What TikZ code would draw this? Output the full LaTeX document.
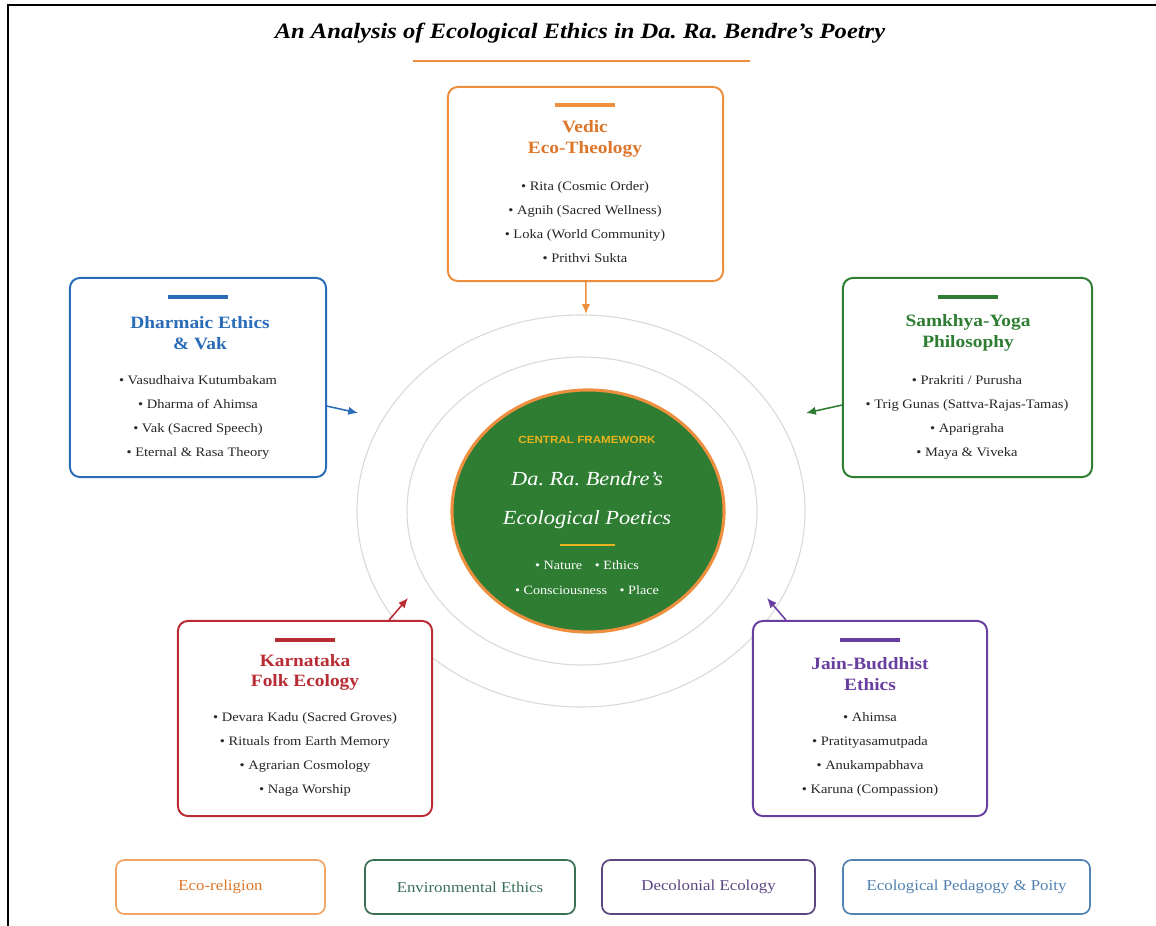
\documentclass[tikz,border=0pt]{standalone}
\usepackage{fontspec}
\setmainfont[FakeStretch=1.12]{Liberation Serif}
\newfontfamily\labelsans[FakeStretch=1.12]{Liberation Sans}
\usepackage{tikz}
\usetikzlibrary{shapes,arrows,arrows.meta,positioning,fit,backgrounds}
\definecolor{orange}{RGB}{237, 143, 62}
\definecolor{orangetext}{RGB}{222, 118, 42}
\definecolor{blue}{RGB}{43, 108, 184}
\definecolor{green}{RGB}{46, 125, 50}
\definecolor{red}{RGB}{185, 44, 52}
\definecolor{purple}{RGB}{104, 62, 160}
\definecolor{gold}{RGB}{232, 180, 30}
\definecolor{ringgray}{RGB}{218, 218, 218}
\definecolor{legorange}{RGB}{240, 165, 100}
\definecolor{legteal}{RGB}{58, 112, 86}
\definecolor{legpurple}{RGB}{92, 70, 128}
\definecolor{legblue}{RGB}{82, 130, 178}
\tikzstyle{box} = [rectangle, rounded corners=7pt, line width=1.4pt, fill=white]
\tikzstyle{legend} = [rectangle, rounded corners=6pt, line width=1.2pt, fill=white, minimum height=1.35cm, font=\fontsize{10.7}{12}\selectfont]
\tikzstyle{titlebar} = [rectangle, inner sep=0pt, minimum width=1.5cm, minimum height=0.08cm]
\tikzstyle{boxtitle} = [align=center, font=\bfseries\fontsize{12.3}{14.5}\selectfont]
\tikzstyle{items} = [align=center, text=black!85, font=\fontsize{9.2}{17.1}\selectfont]
\tikzstyle{textonly} = [draw=none, fill=none, text centered]
\tikzstyle{boxtextonly} = [draw=none, fill=none, align=center]
\tikzstyle{tedge}  = [draw, line width=1.1pt, >={Latex[length=7pt,width=6pt]}, ->]

\begin{document}
\begin{tikzpicture}[x=0.025cm, y=-0.025cm]
\useasboundingbox (0,0) rectangle (1156,926);
\draw[line width=1.2pt] (8,926) -- (8,5) -- (1156,5);

%title=========================
\node[textonly, font=\bfseries\itshape\fontsize{15.6}{18}\selectfont] (title) at (580,33) {An Analysis of Ecological Ethics in Da.\ Ra.\ Bendre’s Poetry};
\node[titlebar, fill=orange, minimum width=8.425cm, minimum height=0.06cm] (titlerule) at (581.5,61) {};

%rings and centre=========================
\draw[ringgray, line width=0.8pt] (581,511) ellipse [x radius=224, y radius=196];
\draw[ringgray, line width=0.8pt] (582,511) ellipse [x radius=175, y radius=154];
\node[ellipse, fill=green, draw=orange, line width=2.2pt, minimum width=6.8cm, minimum height=6.05cm, inner sep=0pt] (core) at (588,511) {};
\node[textonly, text=gold, font=\labelsans\bfseries\fontsize{7.4}{9}\selectfont] (corelabel) at (587,440) {CENTRAL FRAMEWORK};
\node[boxtextonly, text=white, font=\itshape\fontsize{14.2}{27.7}\selectfont] (corename) at (587,500.5) {Da.\ Ra.\ Bendre’s\\Ecological Poetics};
\node[titlebar, fill=gold, minimum width=1.375cm, minimum height=0.06cm] (corebar) at (587,545) {};
\node[boxtextonly, text=white, font=\fontsize{9}{17.8}\selectfont] (coreitems) at (587,577.5) {• Nature\quad • Ethics\\• Consciousness\quad • Place};

%boxes=========================
\node[box, draw=orange, minimum width=6.875cm, minimum height=4.85cm] (vedic) at (585.5,184) {};
\node[titlebar, fill=orange] (vedicbar) at (585,105) {};
\node[boxtitle, text=orangetext] (vedict) at (585,139) {Vedic\\Eco-Theology};
\node[items] (vedici) at (585,222) {• Rita (Cosmic Order)\\• Agnih (Sacred Wellness)\\• Loka (World Community)\\• Prithvi Sukta};

\node[box, draw=blue, minimum width=6.4cm, minimum height=4.975cm] (dharma) at (198,377.5) {};
\node[titlebar, fill=blue] (dharmabar) at (198,297) {};
\node[boxtitle, text=blue] (dharmat) at (200,333) {Dharmaic Ethics\\\& Vak};
\node[items] (dharmai) at (198,417) {• Vasudhaiva Kutumbakam\\• Dharma of Ahimsa\\• Vak (Sacred Speech)\\• Eternal \& Rasa Theory};

\node[box, draw=green, minimum width=6.225cm, minimum height=4.975cm] (samkhya) at (967.5,377.5) {};
\node[titlebar, fill=green] (samkhyabar) at (968,297) {};
\node[boxtitle, text=green] (samkhyat) at (968,333) {Samkhya-Yoga\\Philosophy};
\node[items] (samkhyai) at (967,417) {• Prakriti / Purusha\\• Trig Gunas (Sattva-Rajas-Tamas)\\• Aparigraha\\• Maya \& Viveka};

\node[box, draw=red, minimum width=6.35cm, minimum height=4.875cm] (folk) at (305,718.5) {};
\node[titlebar, fill=red] (folkbar) at (305,640) {};
\node[boxtitle, text=red] (folkt) at (305,672.5) {Karnataka\\Folk Ecology};
\node[items] (folki) at (305,754) {• Devara Kadu (Sacred Groves)\\• Rituals from Earth Memory\\• Agrarian Cosmology\\• Naga Worship};

\node[box, draw=purple, minimum width=5.85cm, minimum height=4.875cm] (jain) at (870,718.5) {};
\node[titlebar, fill=purple] (jainbar) at (870,640) {};
\node[boxtitle, text=purple] (jaint) at (870,674) {Jain-Buddhist\\Ethics};
\node[items] (jaini) at (870,754) {• Ahimsa\\• Pratityasamutpada\\• Anukampabhava\\• Karuna (Compassion)};

%legend=========================
\node[legend, draw=legorange, text=orangetext, minimum width=5.225cm] (ecorel) at (220.5,887) {Eco-religion};
\node[legend, draw=legteal, text=legteal, minimum width=5.25cm] (envethics) at (470,887) {Environmental Ethics};
\node[legend, draw=legpurple, text=legpurple, minimum width=5.325cm] (decol) at (708.5,887) {Decolonial Ecology};
\node[legend, draw=legblue, text=legblue, minimum width=6.175cm] (pedagogy) at (966.5,887) {Ecological Pedagogy \& Poity};

% edges
\coordinate (vedictip) at (586,314);
\coordinate (dharmatip) at (358,413);
\coordinate (samkhyatip) at (806,413);
\coordinate (folktip) at (408,598);
\coordinate (jaintip) at (767,598);
\path[tedge, orange] (vedic) edge (vedictip);
\path[tedge, blue] (dharma) edge (dharmatip);
\path[tedge, green] (samkhya) edge (samkhyatip);
\path[tedge, red] (folk) edge (folktip);
\path[tedge, purple] (jain) edge (jaintip);

\end{tikzpicture}
\end{document}
